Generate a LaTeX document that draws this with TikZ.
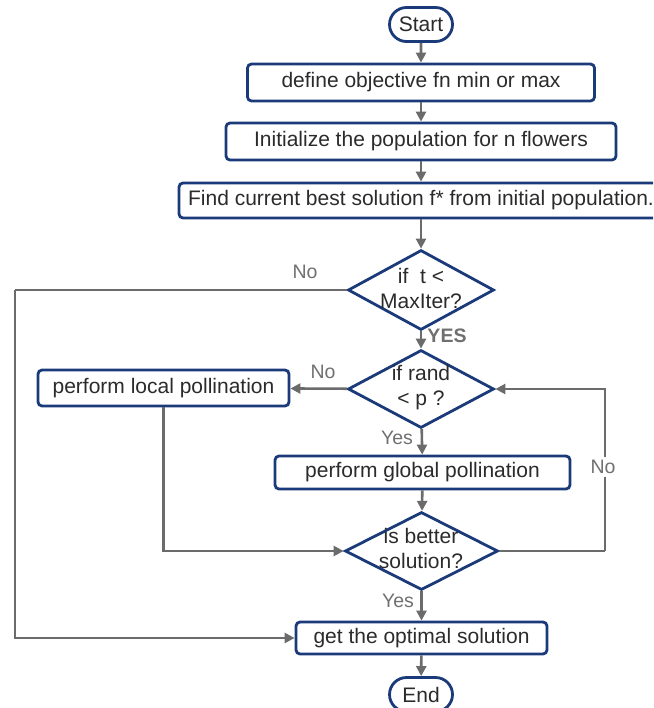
\documentclass[tikz,border=0pt]{standalone}
\usepackage{fontspec}
\setmainfont{Liberation Sans}
\usetikzlibrary{arrows.meta,shapes.geometric,shapes.misc}
\definecolor{navy}{HTML}{1B3A7A}
\definecolor{conngray}{HTML}{6B6B6B}
\definecolor{txtgray}{HTML}{2B2B2B}
\definecolor{lblgray}{HTML}{707070}
\begin{document}
\begin{tikzpicture}[x=1pt,y=-1pt,
  procbox/.style={draw=navy,line width=2.8pt,rounded corners=4pt,fill=white,text=txtgray,
    font=\fontsize{21}{26}\selectfont,inner sep=0pt},
  pill/.style={draw=navy,line width=2.8pt,rounded rectangle,fill=white,text=txtgray,
    font=\fontsize{21}{26}\selectfont,inner sep=0pt,minimum width=63pt,minimum height=34pt},
  decision/.style={draw=navy,line width=2.8pt,diamond,fill=white,inner sep=0pt},
  dtext/.style={text=txtgray,font=\fontsize{21}{25}\selectfont,align=center,inner sep=0pt},
  conn/.style={draw=conngray,line width=2.6pt,-{Triangle[width=10pt,length=10pt]}},
  plain/.style={draw=conngray,line width=2.6pt},
  lbl/.style={text=lblgray,font=\fontsize{19.5}{22}\selectfont,inner sep=0pt},
  lblbold/.style={text=lblgray,font=\fontsize{19.5}{22}\selectfont\bfseries,inner sep=0pt}]
\useasboundingbox (0,0) rectangle (653,708);
\clip (0,0) rectangle (653,708);

\node[pill] (start) at (421,24.5) {Start};
\node[procbox,minimum width=347pt,minimum height=37pt] (b1) at (421,82.5) {define objective fn min or max};
\node[procbox,minimum width=390pt,minimum height=37pt] (b2) at (421,141.5) {Initialize the population for n flowers};
\node[procbox,minimum width=484pt,minimum height=35pt] (b3) at (421,200.5) {Find current best solution f* from initial population.};

\node[decision,minimum width=146pt,minimum height=80pt] (d1) at (421,290) {};
\node[dtext] (d1t) at (421,288) {if~~t <\\MaxIter?};

\node[decision,minimum width=146pt,minimum height=78pt] (d2) at (421,389) {};
\node[dtext] (d2t) at (421,388) {if rand\\< p ?};

\node[procbox,minimum width=251pt,minimum height=36pt] (local) at (163.5,388) {perform local pollination};
\node[procbox,minimum width=295pt,minimum height=33pt] (global) at (422.5,472.5) {perform global pollination};

\node[decision,minimum width=153pt,minimum height=78pt] (d3) at (421.5,551) {};
\node[dtext] (d3t) at (421,548) {is better\\solution?};

\node[procbox,minimum width=251pt,minimum height=32pt] (final) at (421.5,638) {get the optimal solution};
\node[pill] (finish) at (421,694.5) {End};

\coordinate (lc) at (15,290);
\coordinate (rc) at (605,551);

\draw[conn] (start) -- (b1);
\draw[conn] (b1) -- (b2);
\draw[conn] (b2) -- (b3);
\draw[conn] (b3) -- (d1);
\draw[conn] (d1) -- (d2);
\draw[conn] (d2) -- (local);
\draw[conn] (d2) -- (global);
\draw[conn] (global) -- (d3);
\draw[conn] (local.south) |- (d3.west);
\draw[plain] (d3.east) -- (rc);
\draw[conn] (rc) |- (d2.east);
\draw[plain] (d1.west) -- (lc);
\draw[conn] (lc) |- (final.west);
\draw[conn] (d3) -- (final);
\draw[conn] (final) -- (finish);

\node[lbl] (l1) at (305,272) {No};
\node[lblbold] (l2) at (447,336) {YES};
\node[lbl] (l3) at (323,372) {No};
\node[lbl] (l4) at (397,438) {Yes};
\node[lbl,fill=white,inner ysep=3pt,inner xsep=1pt] (l5) at (603,467) {No};
\node[lbl] (l6) at (398,601) {Yes};
\end{tikzpicture}
\end{document}
